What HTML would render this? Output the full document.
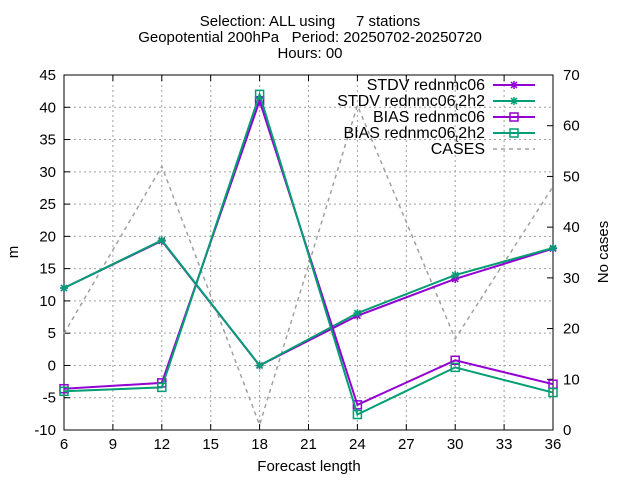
<!DOCTYPE html>
<html><head><meta charset="utf-8"><style>body{margin:0;background:#fff}svg{display:block;font-family:"Liberation Sans",sans-serif}text{white-space:pre}</style></head>
<body>
<svg id="c" width="640" height="480" xmlns="http://www.w3.org/2000/svg">
<text x="310" y="26" text-anchor="middle" font-size="15">Selection: ALL using     7 stations</text>
<text x="310" y="42" text-anchor="middle" font-size="15">Geopotential 200hPa   Period: 20250702-20250720</text>
<text x="310" y="58" text-anchor="middle" font-size="15">Hours: 00</text>
<g id="grid"></g><g id="axes"></g><g id="series"></g><g id="legend"></g>
<text x="309" y="471" text-anchor="middle" font-size="15">Forecast length</text>
<text transform="translate(18,252) rotate(-90)" text-anchor="middle" font-size="15">m</text>
<text transform="translate(608,252) rotate(-90)" text-anchor="middle" font-size="15">No cases</text>
</svg>
<script>
const xs=[6,12,18,24,30,36];
const stdvR=[12,19.3,0,7.7,13.4,18.1];
const stdvT=[12,19.4,0,8.1,14.0,18.2];
const biasR=[-3.6,-2.7,41,-6.1,0.8,-2.9];
const biasT=[-4.0,-3.4,42,-7.6,-0.3,-4.2];
const cases=[19,52,1,64,18,48];
const xTicks=[6,9,12,15,18,21,24,27,30,33,36];
const yTicks=[-10,-5,0,5,10,15,20,25,30,35,40,45];
const y2Ticks=[0,10,20,30,40,50,60,70];
const L=64,R=553,T=75,B=430;
const X=v=>L+(v-6)/30*(R-L), Y=v=>B-(v+10)/55*(B-T), Y2=v=>B-v/70*(B-T);
const NS="http://www.w3.org/2000/svg";
function mk(p,t,a){const e=document.createElementNS(NS,t);for(const k in a)e.setAttribute(k,a[k]);document.getElementById(p).appendChild(e);return e;}
xTicks.forEach(v=>{const x=X(v);
 const g=mk('grid','line',{x1:x,x2:x,y1:T,y2:B,stroke:'#a0a0a0','stroke-dasharray':'2,3'});
 
 const t=mk('axes','text',{x:x,y:B+19,'text-anchor':'middle','font-size':15});t.textContent=v;
 
 mk('axes','line',{x1:x,x2:x,y1:B,y2:B-6,stroke:'#000'});mk('axes','line',{x1:x,x2:x,y1:T,y2:T+6,stroke:'#000'});});
yTicks.forEach(v=>{const y=Y(v);
 const g=mk('grid','line',{x1:L,x2:R,y1:y,y2:y,stroke:'#a0a0a0','stroke-dasharray':'2,3'});
 
 const t=mk('axes','text',{x:L-8,y:y+5,'text-anchor':'end','font-size':15});t.textContent=v;
 
 mk('axes','line',{x1:L,x2:L+6,y1:y,y2:y,stroke:'#000'});});
y2Ticks.forEach(v=>{const y=Y2(v);
 const t=mk('axes','text',{x:R+10,y:y+5,'font-size':15});t.textContent=v;
 
 mk('axes','line',{x1:R-6,x2:R,y1:y,y2:y,stroke:'#000'});});
const fr=mk('axes','rect',{x:L,y:T,width:R-L,height:B-T,fill:'none',stroke:'#000'});

function marker(p,x,y,type,col){
 if(type==='box'){mk(p,'rect',{x:x-4,y:y-4,width:8,height:8,fill:'none',stroke:col,'stroke-width':1.5});}
 else{mk(p,'path',{d:`M${x-4} ${y}H${x+4}M${x} ${y-4}V${y+4}M${x-3} ${y-3}L${x+3} ${y+3}M${x-3} ${y+3}L${x+3} ${y-3}`,stroke:col,'stroke-width':1.5});}}
const series=[
 {n:'STDV rednmc06',d:stdvR,c:'#9400d3',m:'star',ax:Y,nm:'series-stdv-rednmc06'},
 {n:'STDV rednmc06_t2h2',d:stdvT,c:'#009e73',m:'star',ax:Y,nm:'series-stdv-t2h2'},
 {n:'BIAS rednmc06',d:biasR,c:'#9400d3',m:'box',ax:Y,nm:'series-bias-rednmc06'},
 {n:'BIAS rednmc06_t2h2',d:biasT,c:'#009e73',m:'box',ax:Y,nm:'series-bias-t2h2'},
 {n:'CASES',d:cases,c:'#a0a0a0',m:null,ax:Y2,nm:'series-cases'}];
[4,0,1,2,3].forEach(i=>{const s=series[i];
 const pts=s.d.map((v,j)=>X(xs[j])+','+s.ax(v)).join(' ');
 const pl=mk('series','polyline',{points:pts,fill:'none',stroke:s.c,'stroke-width':s.m?2:1.5,'stroke-dasharray':s.m?'none':'4,4'});
 
 if(s.m)s.d.forEach((v,j)=>marker('series',X(xs[j]),s.ax(v),s.m,s.c));});
const labs=['STDV rednmc06','STDV rednmc06<tspan font-size="10" dy="4">t</tspan><tspan dy="-4">2h2</tspan>','BIAS rednmc06','BIAS rednmc06<tspan font-size="10" dy="4">t</tspan><tspan dy="-4">2h2</tspan>','CASES'];
series.forEach((s,i)=>{const y=85+i*16;
 const t=mk('legend','text',{x:485,y:y+5,'text-anchor':'end','font-size':16});t.innerHTML=labs[i];
 
 mk('legend','line',{x1:493,x2:535,y1:y,y2:y,stroke:s.c,'stroke-width':s.m?2:1.5,'stroke-dasharray':s.m?'none':'4,4'});
 if(s.m)marker('legend',514,y,s.m,s.c);});
</script>
</body></html>
